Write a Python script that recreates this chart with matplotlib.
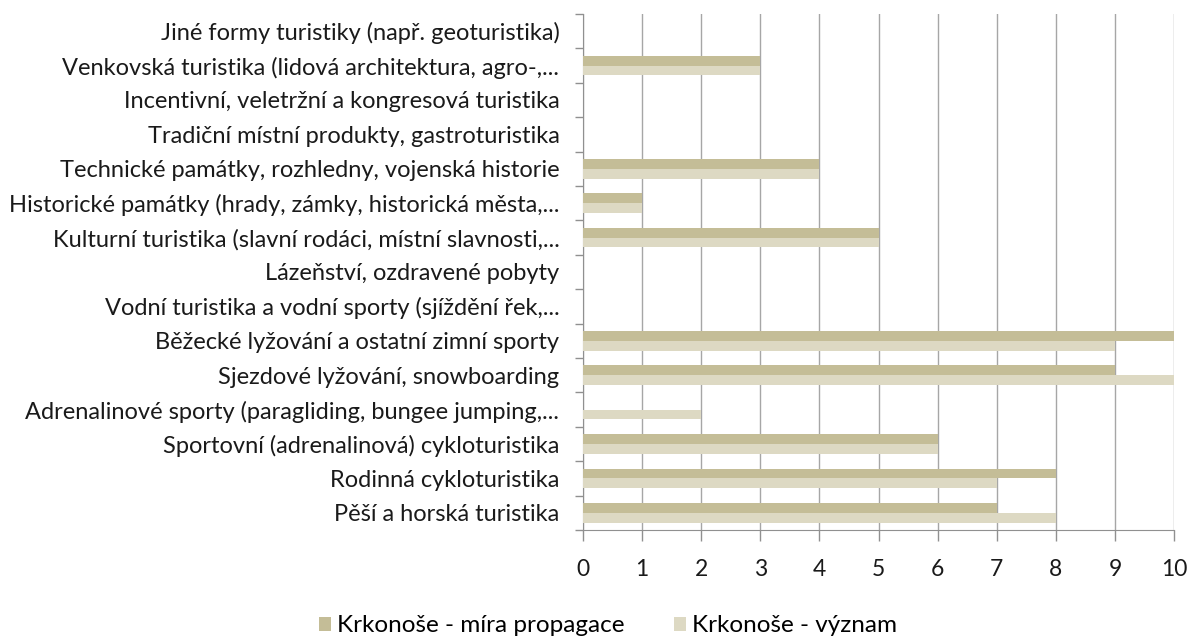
import matplotlib.pyplot as plt
import numpy as np

# categories bottom -> top, as drawn
categories = [
    "Pěší a horská turistika",
    "Rodinná cykloturistika",
    "Sportovní (adrenalinová) cykloturistika",
    "Adrenalinové sporty (paragliding, bungee jumping,...",
    "Sjezdové lyžování, snowboarding",
    "Běžecké lyžování a ostatní zimní sporty",
    "Vodní turistika a vodní sporty (sjíždění řek,...",
    "Lázeňství, ozdravené pobyty",
    "Kulturní turistika (slavní rodáci, místní slavnosti,...",
    "Historické památky (hrady, zámky, historická města,...",
    "Technické památky, rozhledny, vojenská historie",
    "Tradiční místní produkty, gastroturistika",
    "Incentivní, veletržní a kongresová turistika",
    "Venkovská turistika (lidová architektura, agro-,...",
    "Jiné formy turistiky (např. geoturistika)",
]
propagace = [7, 8, 6, 0, 9, 10, 0, 0, 5, 1, 4, 0, 0, 3, 0]
vyznam = [8, 7, 6, 2, 10, 9, 0, 0, 5, 1, 4, 0, 0, 3, 0]
x_ticks = list(range(0, 11))

plt.rcParams['font.family'] = ['Lato', 'DejaVu Sans']

fig = plt.figure(figsize=(11.92, 6.37), dpi=100)
ax = fig.add_axes([583 / 1192, 1 - 530 / 637, (1174 - 583) / 1192, (530 - 14) / 637])

y = np.arange(len(categories))
h = 0.286
ax.barh(y + h / 2, propagace, height=h, color="#C4BD97", label="Krkonoše - míra propagace", zorder=3)
ax.barh(y - h / 2, vyznam, height=h, color="#DDD9C3", label="Krkonoše - význam", zorder=3)

ax.set_xlim(0, 10)
ax.set_ylim(-0.5, len(categories) - 0.5)
ax.set_xticks(x_ticks)
ax.set_yticks(y)
ax.set_yticklabels(categories, fontsize=17, color="#1a1a1a")
ax.set_yticks(np.arange(-0.5, len(categories), 1), minor=True)
ax.tick_params(axis="y", which="major", length=0, pad=17)
ax.tick_params(axis="y", which="minor", length=6, color="#909090", width=1)
ax.tick_params(axis="x", length=8, color="#909090", width=1, labelsize=16.5, pad=13, labelcolor="#1a1a1a")

ax.grid(axis="x", color="#A6A6A6", linewidth=1, zorder=0)
for s in ["top", "right"]:
    ax.spines[s].set_visible(False)
for s in ["left", "bottom"]:
    ax.spines[s].set_color("#909090")

fig.legend(loc="center", bbox_to_anchor=(608 / 1192, 1 - 626 / 637), ncol=2, frameon=False,
           fontsize=17.5, handlelength=0.5, handleheight=0.5, handletextpad=0.25, columnspacing=2.0)

fig.savefig("out.png", dpi=100)
